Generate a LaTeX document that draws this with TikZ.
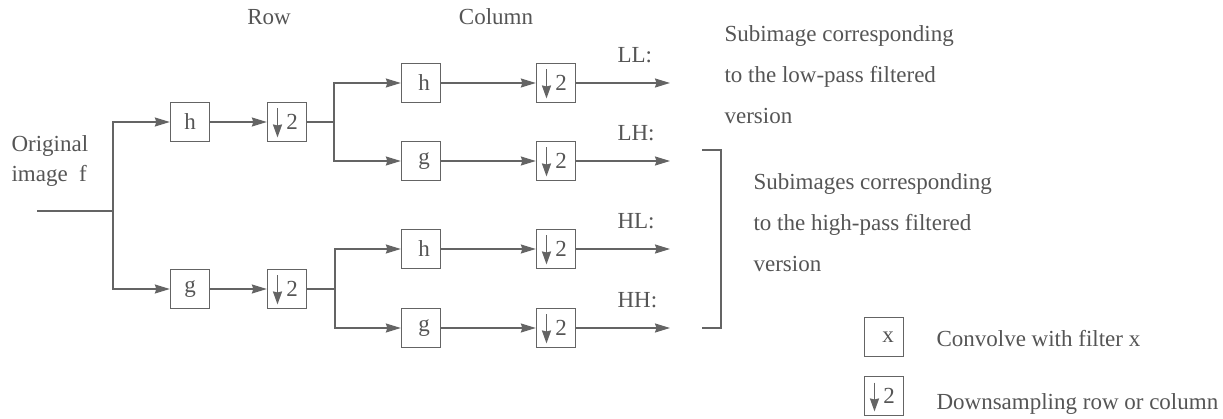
\documentclass[tikz,border=0pt]{standalone}
\usepackage{fontspec}
\setmainfont{Liberation Serif}
\usetikzlibrary{arrows.meta,calc}
\definecolor{ln}{RGB}{100,100,100}
\definecolor{tx}{RGB}{85,85,85}
\begin{document}
\begin{tikzpicture}[x=1pt,y=-1pt,
  every node/.style={font=\fontsize{23}{28}\selectfont, text=tx},
  box/.style={draw=ln, line width=1.3pt, minimum size=39pt, inner sep=0pt},
  dbox/.style={box, path picture={\draw[ln, line width=1.8pt, -{Stealth[length=13pt,width=9pt,inset=1pt]}] ([shift={(10pt,-6pt)}]path picture bounding box.north west) -- ([shift={(10pt,4pt)}]path picture bounding box.south west);}},
  conn/.style={draw=ln, line width=1.5pt},
  arr/.style={conn, -{Stealth[length=15pt,width=9pt,inset=1.5pt]}},
  lbl/.style={anchor=base west},
]
\useasboundingbox (0,0) rectangle (1223,419);

% headers
\node[anchor=base] (row) at (269,25) {Row};
\node[anchor=base] (col) at (496,25) {Column};

% input
\node[anchor=base west, align=left, font=\fontsize{23}{30}\selectfont] (orig) at (8,182) {Original\\image\ \ f};
\coordinate (in) at (37,211);
\coordinate (s0) at (113,211);

% row stage
\node[box] (h1) at (190,122) {h};
\node[dbox] (d1) at (287,122) {\hspace*{10pt}2};
\node[box] (g1) at (190,289) {g};
\node[dbox] (d2) at (287,289) {\hspace*{10pt}2};
\coordinate (s1) at (334,122);
\coordinate (s2) at (335,289);

% column stage
\node[box] (hA) at (421,83) {\hspace*{6pt}h};
\node[dbox] (dA) at (556,83) {\hspace*{10pt}2};
\node[box] (gB) at (421,161) {\hspace*{6pt}g};
\node[dbox] (dB) at (556,161) {\hspace*{10pt}2};
\node[box] (hC) at (421,249) {\hspace*{6pt}h};
\node[dbox] (dC) at (556,249) {\hspace*{10pt}2};
\node[box] (gD) at (421,328) {\hspace*{6pt}g};
\node[dbox] (dD) at (556,328) {\hspace*{10pt}2};

\coordinate (oA) at (670,83);
\coordinate (oB) at (670,161);
\coordinate (oC) at (670,249);
\coordinate (oD) at (670,328);

% connectors
\draw[conn] (in) -- (s0);
\draw[arr] (s0) |- (h1);
\draw[arr] (s0) |- (g1);
\draw[arr] (h1) -- (d1);
\draw[arr] (g1) -- (d2);
\draw[conn] (d1) -- (s1);
\draw[conn] (d2) -- (s2);
\draw[arr] (s1) |- (hA);
\draw[arr] (s1) |- (gB);
\draw[arr] (s2) |- (hC);
\draw[arr] (s2) |- (gD);
\draw[arr] (hA) -- (dA);
\draw[arr] (gB) -- (dB);
\draw[arr] (hC) -- (dC);
\draw[arr] (gD) -- (dD);
\draw[arr] (dA) -- (oA);
\draw[arr] (dB) -- (oB);
\draw[arr] (dC) -- (oC);
\draw[arr] (dD) -- (oD);

% output labels
\node[lbl] (LL) at (614,63) {LL:};
\node[lbl] (LH) at (614,141) {LH:};
\node[lbl] (HL) at (614,229) {HL:};
\node[lbl] (HH) at (614,308) {HH:};

% bracket
\coordinate (bt) at (702,150);
\coordinate (bb) at (702,328);
\draw[conn] (bt) -- ++(19,0) |- (bb);

% descriptions
\node[lbl] (t1a) at (721,42) {Subimage corresponding};
\node[lbl] (t1b) at (721,83) {to the low-pass filtered};
\node[lbl] (t1c) at (721,124) {version};
\node[lbl] (t2a) at (750,190) {Subimages corresponding};
\node[lbl] (t2b) at (750,231) {to the high-pass filtered};
\node[lbl] (t2c) at (750,272) {version};

% legend
\node[box] (lx) at (884,337) {\hspace*{8pt}x};
\node[dbox] (ld) at (884,396) {\hspace*{10pt}2};
\node[lbl] (lxt) at (933,347) {Convolve with filter x};
\node[lbl] (ldt) at (933,409) {Downsampling row or column};
\end{tikzpicture}
\end{document}
